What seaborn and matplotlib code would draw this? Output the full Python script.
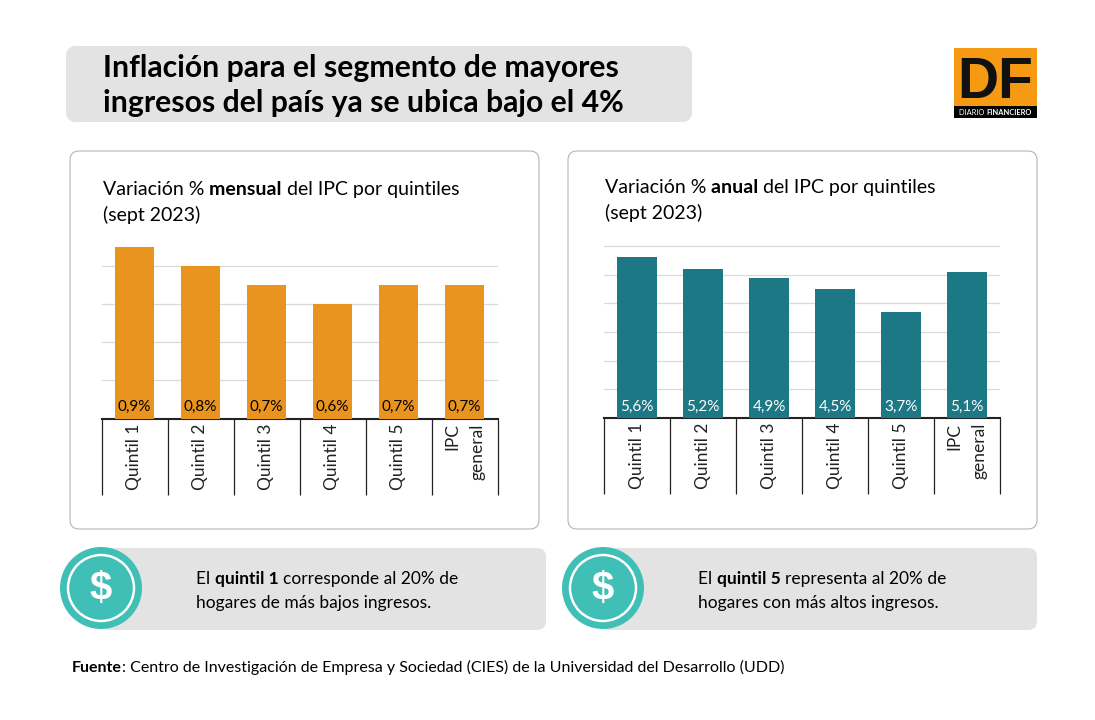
import matplotlib
matplotlib.use("Agg")
import matplotlib.pyplot as plt
from matplotlib.patches import FancyBboxPatch, Rectangle, Circle
import pandas as pd
import seaborn as sns

# datos
quintiles = ["Quintil 1", "Quintil 2", "Quintil 3", "Quintil 4", "Quintil 5", "IPC\ngeneral"]
mensual = [0.9, 0.8, 0.7, 0.6, 0.7, 0.7]
anual = [5.6, 5.2, 4.9, 4.5, 3.7, 5.1]
etiquetas_mensual = ["0,9%", "0,8%", "0,7%", "0,6%", "0,7%", "0,7%"]
etiquetas_anual = ["5,6%", "5,2%", "4,9%", "4,5%", "3,7%", "5,1%"]

W, H = 1095, 720

sns.set_theme(style="white")
plt.rcParams["font.family"] = ["Lato", "DejaVu Sans"]
plt.rcParams["text.color"] = "black"

fig = plt.figure(figsize=(W / 100, H / 100), dpi=100, facecolor="white")

# capa de fondo en pixeles
bg = fig.add_axes([0, 0, 1, 1], zorder=0)
bg.set_xlim(0, W)
bg.set_ylim(H, 0)
bg.axis("off")


def caja(x0, y0, x1, y1, r, fc, ec="none", lw=0):
    bg.add_patch(FancyBboxPatch((x0 + r, y0 + r), x1 - x0 - 2 * r, y1 - y0 - 2 * r,
                                boxstyle=f"round,pad={r},rounding_size={r}",
                                fc=fc, ec=ec, lw=lw))


def texto_mixto(x, y, partes, size, color="black"):
    # partes = lista de (texto, negrita), se encadenan midiendo cada trozo
    r = fig.canvas.get_renderer()
    for txt, negrita in partes:
        t = bg.text(x, y, txt, fontsize=size, color=color, va="baseline", ha="left",
                    fontweight="bold" if negrita else "normal")
        x = bg.transData.inverted().transform(
            (t.get_window_extent(r).x1, 0))[0]


def icono(cx, cy):
    bg.add_patch(Circle((cx, cy), 41, fc="#3FBFB5", ec="none", zorder=5))
    bg.add_patch(Circle((cx, cy), 33, fc="none", ec="white", lw=1.8, zorder=6))
    bg.text(cx, cy + 1, "$", color="white", fontsize=29, fontweight="bold",
            ha="center", va="center", zorder=7, family=["Liberation Sans", "DejaVu Sans"])


# titulo
caja(66, 46, 692, 122, 10, "#E3E3E3")
bg.text(103, 77, "Inflación para el segmento de mayores", fontsize=21.7, fontweight="bold", va="baseline")
bg.text(103, 112, "ingresos del país ya se ubica bajo el 4%", fontsize=21.7, fontweight="bold", va="baseline")

# logo
bg.add_patch(Rectangle((954, 48), 83, 59, fc="#F59A12", ec="none"))
bg.add_patch(Rectangle((954, 106), 83, 12, fc="black", ec="none"))
bg.text(995, 98, "DF", fontsize=41, fontweight="bold", color="#111111", ha="center",
        va="baseline", family=["Liberation Sans", "DejaVu Sans"])
texto_mixto(959, 115, [("DIARIO ", False), ("FINANCIERO", True)], 5.4, color="white")

# paneles
caja(70, 151, 539, 529, 9, "white", ec="#B0B0B0", lw=0.75)
caja(568, 151, 1037, 529, 9, "white", ec="#B0B0B0", lw=0.75)
texto_mixto(103, 195, [("Variación % ", False), ("mensual ", True), ("del IPC por quintiles", False)], 14)
bg.text(103, 221, "(sept 2023)", fontsize=14)
texto_mixto(605, 193, [("Variación % ", False), ("anual ", True), ("del IPC por quintiles", False)], 14)
bg.text(605, 219, "(sept 2023)", fontsize=14)


def grafico(x0, x1, y_top, y_base, ymax, valores, etiquetas, color, color_txt, grid):
    ax = fig.add_axes([x0 / W, 1 - y_base / H, (x1 - x0) / W, (y_base - y_top) / H],
                      zorder=2, facecolor="none")
    df = pd.DataFrame({"categoria": quintiles, "valor": valores})
    sns.barplot(data=df, x="categoria", y="valor", color=color, saturation=1, width=0.606,
                linewidth=0, ax=ax, zorder=3)
    ax.set_xlim(-0.5, 5.5)
    ax.set_ylim(0, ymax)
    ax.set_xlabel("")
    ax.set_ylabel("")
    ax.set_yticks(grid)
    ax.set_yticklabels([])
    ax.yaxis.grid(True, color="#D9D9D9", lw=0.9, zorder=0)
    ax.set_axisbelow(True)
    ax.tick_params(axis="y", length=0)
    sns.despine(ax=ax, left=True)
    ax.spines["bottom"].set_color("#222222")
    ax.spines["bottom"].set_linewidth(1.5)
    # separadores largos entre categorias
    ax.set_xticks([-0.5 + i for i in range(7)], minor=True)
    ax.tick_params(axis="x", which="minor", length=55, width=0.9, color="#222222", bottom=True)
    ax.tick_params(axis="x", which="major", length=0, pad=3.5)
    ax.set_xticks(range(6))
    ax.set_xticklabels(quintiles, rotation=90, fontsize=12.5, color="#222222", va="top",
                       ha="center", multialignment="right", linespacing=1.7)
    ax.bar_label(ax.containers[0], labels=etiquetas, label_type="edge", color=color_txt,
                 fontsize=11, padding=0, zorder=5)
    # etiquetas al pie de la barra
    for t in ax.texts:
        t.xy = (t.xy[0], 0)
        t.xyann = (0, 3)
    return ax


grafico(101.5, 497.5, 240, 418.5, 0.9 * 178.5 / 171.5, mensual, etiquetas_mensual,
        "#E8941F", "black", [0.2, 0.4, 0.6, 0.8])
grafico(604, 1000, 240, 418, 6 * 178 / 172, anual, etiquetas_anual,
        "#1D7885", "white", [1, 2, 3, 4, 5, 6])

# notas inferiores
caja(100, 548, 546, 630, 9, "#E3E3E3")
caja(602, 548, 1037, 630, 9, "#E3E3E3")
icono(101, 588)
icono(603, 588)
texto_mixto(196, 584, [("El ", False), ("quintil 1 ", True), ("corresponde al 20% de", False)], 12.5)
bg.text(196, 608, "hogares de más bajos ingresos.", fontsize=12.5)
texto_mixto(698, 584, [("El ", False), ("quintil 5 ", True), ("representa al 20% de", False)], 12.5)
bg.text(698, 608, "hogares con más altos ingresos.", fontsize=12.5)

# fuente
texto_mixto(72, 672, [("Fuente", True), (": Centro de Investigación de Empresa y Sociedad (CIES) de la Universidad del Desarrollo (UDD)", False)], 11.5)

fig.savefig("out.png", dpi=100)
